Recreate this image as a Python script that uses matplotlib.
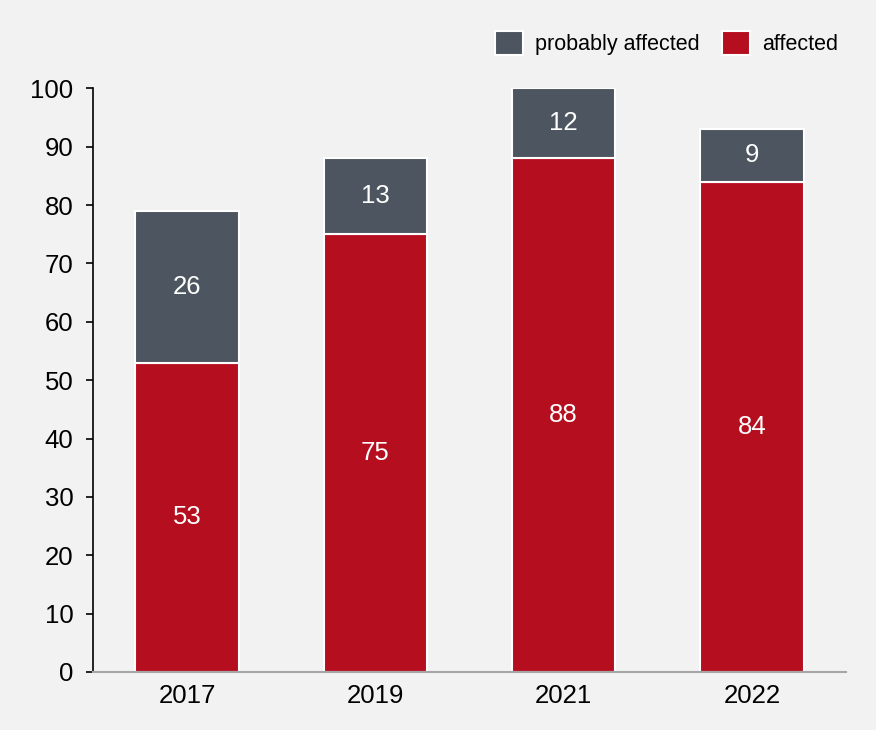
import matplotlib.pyplot as plt
import numpy as np

years = ['2017', '2019', '2021', '2022']
affected = [53, 75, 88, 84]
probably = [26, 13, 12, 9]

red = '#b50e1e'
grey = '#4d5660'
bg = '#f2f2f2'

plt.rcParams['font.family'] = ['Liberation Sans', 'DejaVu Sans']

fig = plt.figure(figsize=(8.76, 7.3), dpi=100, facecolor=bg)
ax = fig.add_axes([0.106, 0.0795, 0.86, 0.7995], facecolor=bg)

x = np.arange(len(years))
w = 0.55
b1 = ax.bar(x, affected, w, color=red, edgecolor='white', lw=1.5, label='affected')
b2 = ax.bar(x, probably, w, bottom=affected, color=grey, edgecolor='white', lw=1.5,
            label='probably affected')

# value labels in the middle of each segment
for i in range(len(years)):
    ax.text(x[i], affected[i] / 2, str(affected[i]), ha='center', va='center',
            color='white', fontsize=18.5)
    ax.text(x[i], affected[i] + probably[i] / 2, str(probably[i]), ha='center',
            va='center', color='white', fontsize=18.5)

ax.set_xlim(-0.5, 3.5)
ax.set_ylim(0, 100)
ax.set_yticks(range(0, 101, 10))
ax.set_xticks(x)
ax.set_xticklabels(years)
ax.tick_params(axis='y', length=5, width=1.2, pad=9, labelsize=18.5, direction='out')
ax.tick_params(axis='x', length=0, pad=9, labelsize=18.5)

for s in ['top', 'right']:
    ax.spines[s].set_visible(False)
ax.spines['left'].set_linewidth(1.2)
ax.spines['left'].set_color('black')
ax.spines['bottom'].set_color('#a6a6a6')
ax.spines['bottom'].set_linewidth(1.5)

leg = fig.legend(handles=[b2, b1], labels=['probably affected', 'affected'],
                 loc='center right', bbox_to_anchor=(0.979, 0.941), ncol=2,
                 frameon=False, fontsize=15.5, handlelength=1.3, handleheight=1.3,
                 columnspacing=1.05, handletextpad=0.55)

plt.savefig('out.png', dpi=100, facecolor=bg)
